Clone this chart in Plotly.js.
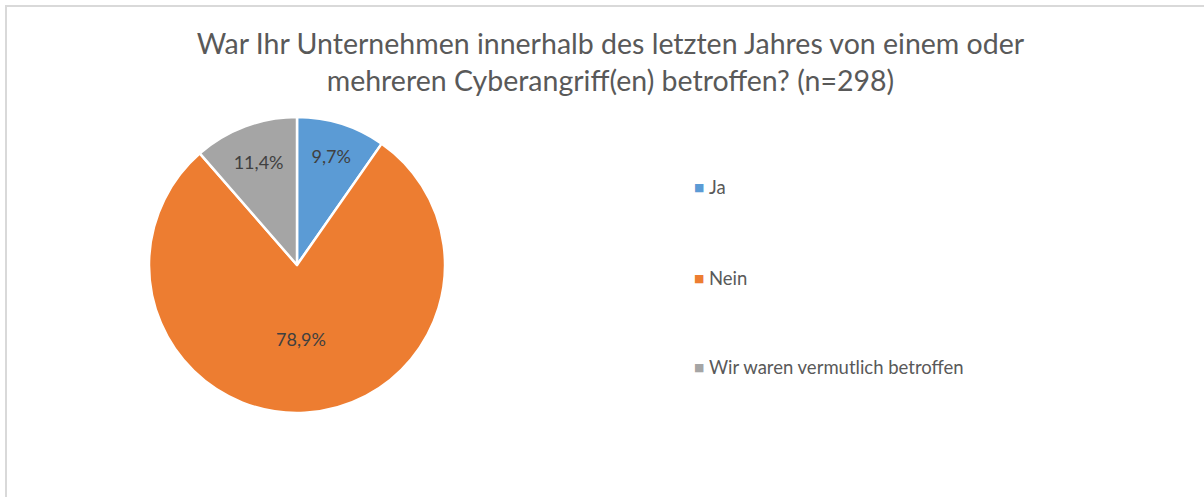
<!DOCTYPE html>
<html>
<head>
<meta charset="utf-8">
<script src="https://cdn.plot.ly/plotly-3.0.1.min.js"></script>
<style>
html,body{margin:0;padding:0;background:#fff;}
#chart{width:1204px;height:497px;}
</style>
</head>
<body>
<div id="chart"></div>
<script>
const categories = ["Ja", "Nein", "Wir waren vermutlich betroffen"];
const shares = [9.7, 78.9, 11.4];
const colors = ["#5B9BD5", "#ED7D31", "#A5A5A5"];
const titleText = "War Ihr Unternehmen innerhalb des letzten Jahres von einem oder<br>mehreren Cyberangriff(en) betroffen? (n=298)";

const FONT = "Lato, 'Open Sans', sans-serif";
const TXT = "#595959";

const trace = {
  type: "pie",
  labels: categories,
  values: shares,
  sort: false,
  direction: "clockwise",
  rotation: 0,
  marker: {colors: colors, line: {color: "#ffffff", width: 2.5}},
  texttemplate: "%{percent:.1%}",
  textposition: "inside",
  insidetextorientation: "horizontal",
  textfont: {family: FONT, size: 18, color: "#404040"},
  domain: {x: [149/1204, 445/1204], y: [84/497, 380/497]},
  showlegend: false,
  hoverinfo: "label+percent"
};

// manual legend built from categories/colors
const legendY = [1 - 187/497, 1 - 278/497, 1 - 367/497];
const shapes = [
  {type: "line", xref: "paper", yref: "paper", x0: 5/1204, x1: 1, y0: 1 - 6/497, y1: 1 - 6/497, line: {color: "#d9d9d9", width: 2}},
  {type: "line", xref: "paper", yref: "paper", x0: 6/1204, x1: 6/1204, y0: 0, y1: 1 - 5/497, line: {color: "#d9d9d9", width: 2}}
];
const annotations = [];
categories.forEach((c, i) => {
  annotations.push({
    xref: "paper", yref: "paper", x: 699/1204, y: legendY[i],
    xanchor: "center", yanchor: "middle", showarrow: false,
    text: "■", font: {family: "DejaVu Sans", size: 11, color: colors[i]}
  });
  annotations.push({
    xref: "paper", yref: "paper", x: 707/1204, y: legendY[i],
    xanchor: "left", yanchor: "middle", showarrow: false,
    text: c,
    font: {family: FONT, size: 18.5, color: TXT}
  });
});

const layout = {
  width: 1204, height: 497,
  margin: {l: 0, r: 0, t: 0, b: 0},
  paper_bgcolor: "#ffffff",
  separators: ",.",
  title: {
    text: titleText,
    font: {family: FONT, size: 28.5, color: TXT},
    x: 0.507, xanchor: "center",
    y: 1 - 54/497, yanchor: "top", yref: "container"
  },
  shapes: shapes,
  annotations: annotations
};

Plotly.newPlot("chart", [trace], layout, {displayModeBar: false, staticPlot: true});
</script>
</body>
</html>
